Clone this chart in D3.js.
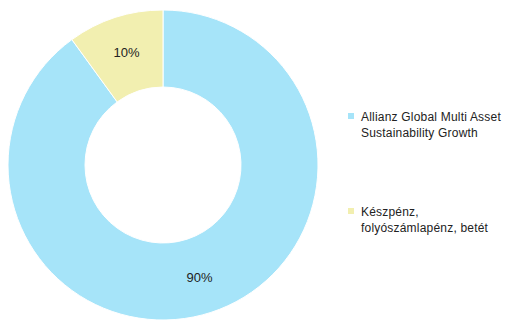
<!DOCTYPE html>
<html><head><meta charset="utf-8">
<script src="https://cdn.jsdelivr.net/npm/d3@7"></script>
<style>html,body{margin:0;padding:0;background:#fff;}svg{display:block;}</style>
</head><body>
<svg id="chart" width="511" height="320"></svg>
<script>
const categories = ["Allianz Global Multi Asset Sustainability Growth", "Készpénz, folyószámlapénz, betét"];
const legendLines = [["Allianz Global Multi Asset", "Sustainability Growth"], ["Készpénz,", "folyószámlapénz, betét"]];
const values = [90, 10];
const colors = ["#a6e4f9", "#f2efb0"];

const svg = d3.select("#chart");
const cx = 163, cy = 165, outerR = 155, innerR = 78;
const g = svg.append("g").attr("transform", `translate(${cx},${cy})`);

const pie = d3.pie().sort(null).value(d => d);
const arcs = pie(values);
const arc = d3.arc().innerRadius(innerR).outerRadius(outerR);
const labelArc = d3.arc().innerRadius(118).outerRadius(118);

g.selectAll("path").data(arcs).enter().append("path")
  .attr("d", arc)
  .attr("fill", (d, i) => colors[i])
  .attr("stroke", "#fff").attr("stroke-width", 1);

g.selectAll("text.lbl").data(arcs).enter().append("text")
  .attr("class", "lbl")
  .attr("transform", d => `translate(${labelArc.centroid(d)})`)
  .attr("text-anchor", "middle").attr("dy", "0.35em")
  .style("font-family", "'Liberation Sans', Arial, sans-serif")
  .style("font-size", "13px").attr("fill", "#222")
  .text(d => d.data + "%");

const legend = svg.append("g");
const ly = [113, 208];
categories.forEach((c, i) => {
  const item = legend.append("g").attr("transform", `translate(348,${ly[i]})`);
  item.append("rect").attr("x", 0).attr("y", 0).attr("width", 6).attr("height", 6).attr("fill", colors[i]);
  const t = item.append("text")
    .style("font-family", "'Liberation Sans', Arial, sans-serif")
    .style("font-size", "12px").style("letter-spacing", "0.2px").attr("fill", "#222");
  legendLines[i].forEach((line, j) => {
    t.append("tspan").attr("x", 13).attr("y", 8 + j * 16).text(line);
  });
});
</script>
</body></html>
